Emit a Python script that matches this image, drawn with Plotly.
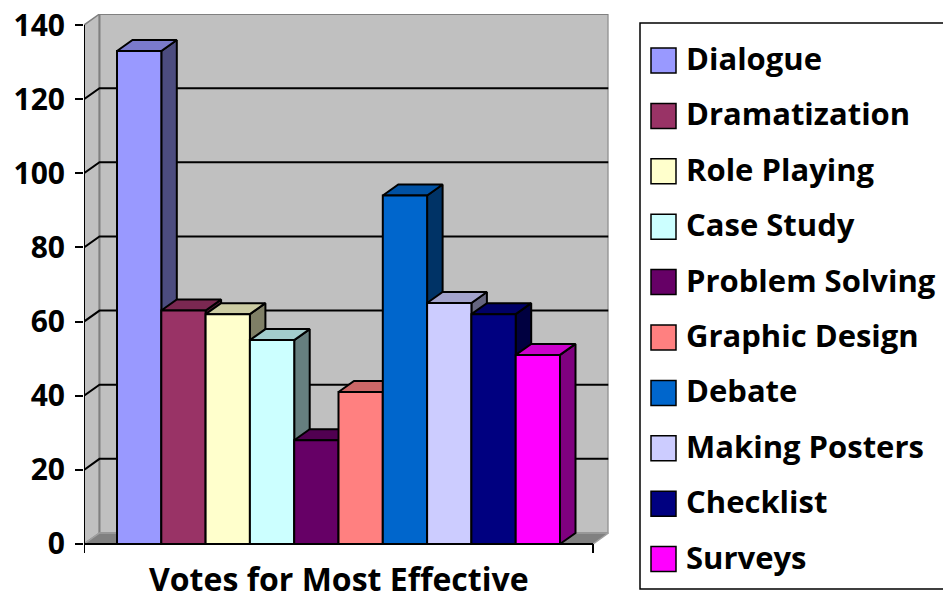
import plotly.graph_objects as go

# ---- data -------------------------------------------------------------
methods = ["Dialogue", "Dramatization", "Role Playing", "Case Study",
           "Problem Solving", "Graphic Design", "Debate", "Making Posters",
           "Checklist", "Surveys"]
votes = [133, 63, 62, 55, 28, 41, 94, 65, 62, 51]
colors = ["#9999FF", "#993366", "#FFFFCC", "#CCFFFF", "#660066",
          "#FF8080", "#0066CC", "#CCCCFF", "#000080", "#FF00FF"]
y_ticks = [0, 20, 40, 60, 80, 100, 120, 140]
axis_title = "Votes for Most Effective"

# ---- styling / geometry ----------------------------------------------
W, H = 943, 603
FONT = "Open Sans"
WALL = "#C0C0C0"
WALL_EDGE = "#808080"
FLOOR = "#808080"

# faux-3D depth offsets in data units
DX = 0.35          # horizontal depth (category units)
DY = 2.97          # vertical depth (value units)
X_LEFT = -1.245    # front-left corner of the floor
X_RIGHT = len(methods) - 0.5 + 0.745
Y_MAX = 140
PX_PER_X = 44.3
PX_PER_Y = 3.707
Y0_PX = 544        # pixel row of value 0

# legend rows: first row centre and row pitch, in pixels
LEG_Y0 = 60.5
LEG_STEP = 55.4


def shade(hex_color, f):
    h = hex_color.lstrip("#")
    r, g, b = (int(h[i:i + 2], 16) for i in (0, 2, 4))
    return "#{:02X}{:02X}{:02X}".format(int(r * f), int(g * f), int(b * f))


def poly(xs, ys, fill, line_color="black", width=2):
    return go.Scatter(x=xs + [xs[0]], y=ys + [ys[0]], mode="lines",
                      fill="toself", fillcolor=fill,
                      line=dict(color=line_color, width=width),
                      hoverinfo="skip", showlegend=False,
                      xaxis="x", yaxis="y")


def seg(xs, ys, color="black", width=2):
    return go.Scatter(x=xs, y=ys, mode="lines",
                      line=dict(color=color, width=width),
                      hoverinfo="skip", showlegend=False,
                      xaxis="x", yaxis="y")


fig = go.Figure()

# walls and floor
fig.add_trace(poly([X_LEFT, X_LEFT, X_LEFT + DX, X_LEFT + DX],
                   [0, Y_MAX, Y_MAX + DY, DY], WALL, WALL_EDGE, 1.5))
fig.add_trace(poly([X_LEFT + DX, X_RIGHT + DX, X_RIGHT + DX, X_LEFT + DX],
                   [DY, DY, Y_MAX + DY, Y_MAX + DY], WALL, WALL_EDGE, 2))
fig.add_trace(poly([X_LEFT, X_RIGHT, X_RIGHT + DX, X_LEFT + DX],
                   [0, 0, DY, DY], FLOOR, "#A0A0A0", 1.5))

# gridlines on side and back walls
for v in y_ticks[1:-1]:
    fig.add_trace(seg([X_LEFT, X_LEFT + DX, X_RIGHT + DX],
                      [v, v + DY, v + DY]))

# bars, left to right: side, top, front
for i, (v, c) in enumerate(zip(votes, colors)):
    a, b = i - 0.5, i + 0.5
    fig.add_trace(poly([b, b + DX, b + DX, b], [0, DY, v + DY, v], shade(c, 0.5)))
    fig.add_trace(poly([a, b, b + DX, a + DX], [v, v, v + DY, v + DY], shade(c, 0.8)))
    fig.add_trace(poly([a, b, b, a], [0, 0, v, v], c))

# front axis lines with end ticks
fig.add_trace(seg([X_LEFT, X_LEFT], [Y_MAX, -2.4]))
fig.add_trace(seg([X_LEFT, X_RIGHT], [0, 0]))
fig.add_trace(seg([X_RIGHT, X_RIGHT], [0, -2.4]))

# legend: colour swatches and labels
idx = list(range(len(methods)))
fig.add_trace(go.Scatter(x=[23.5] * len(methods), y=idx, mode="markers",
                         marker=dict(symbol="square", size=25, color=colors,
                                     line=dict(color="black", width=1.5)),
                         hoverinfo="skip", showlegend=False,
                         xaxis="x2", yaxis="y2"))
fig.add_trace(go.Scatter(x=[46] * len(methods), y=[k + 0.03 for k in idx],
                         mode="text",
                         text=methods, textposition="middle right",
                         textfont=dict(family=FONT, size=31, color="black",
                                       weight="bold"),
                         hoverinfo="skip", showlegend=False,
                         xaxis="x2", yaxis="y2"))

# axis placement
x_end = X_RIGHT + DX
x_px0 = 84
x_px1 = x_px0 + (x_end - X_LEFT) * PX_PER_X
y_lo, y_hi = -3, Y_MAX + 3
y_px_lo = Y0_PX - y_lo * PX_PER_Y
y_px_hi = Y0_PX - y_hi * PX_PER_Y

fig.update_layout(
    width=W, height=H,
    margin=dict(l=0, r=0, t=0, b=0, pad=0),
    paper_bgcolor="white", plot_bgcolor="white",
    showlegend=False,
    xaxis=dict(domain=[x_px0 / W, x_px1 / W], range=[X_LEFT, x_end],
               visible=False, fixedrange=True, automargin=False),
    yaxis=dict(domain=[(H - y_px_lo) / H, (H - y_px_hi) / H],
               range=[y_lo, y_hi], anchor="x", automargin=False,
               showgrid=False, zeroline=False, showline=False,
               tickmode="array", tickvals=y_ticks,
               ticks="outside", ticklen=8, tickwidth=2, tickcolor="black",
               ticklabelstandoff=4,
               tickfont=dict(family=FONT, size=30, color="black",
                             weight="bold"),
               fixedrange=True),
    xaxis2=dict(domain=[640 / W, 1], range=[0, W - 640], visible=False,
                fixedrange=True, automargin=False),
    yaxis2=dict(domain=[0, 1],
                range=[(H - LEG_Y0) / LEG_STEP, -LEG_Y0 / LEG_STEP],
                anchor="x2", visible=False, fixedrange=True, automargin=False),
    shapes=[dict(type="rect", xref="paper", yref="paper",
                 x0=640 / W, x1=1.05, y0=(H - 589) / H, y1=(H - 23) / H,
                 line=dict(color="black", width=1.5), fillcolor="rgba(0,0,0,0)")],
    annotations=[dict(text=axis_title, xref="x", yref="paper",
                      x=(X_LEFT + X_RIGHT) / 2, y=1 / H,
                      xanchor="center", yanchor="bottom", showarrow=False,
                      font=dict(family=FONT, size=32, color="black",
                                weight="bold"))],
)

fig.write_html("out.html")
